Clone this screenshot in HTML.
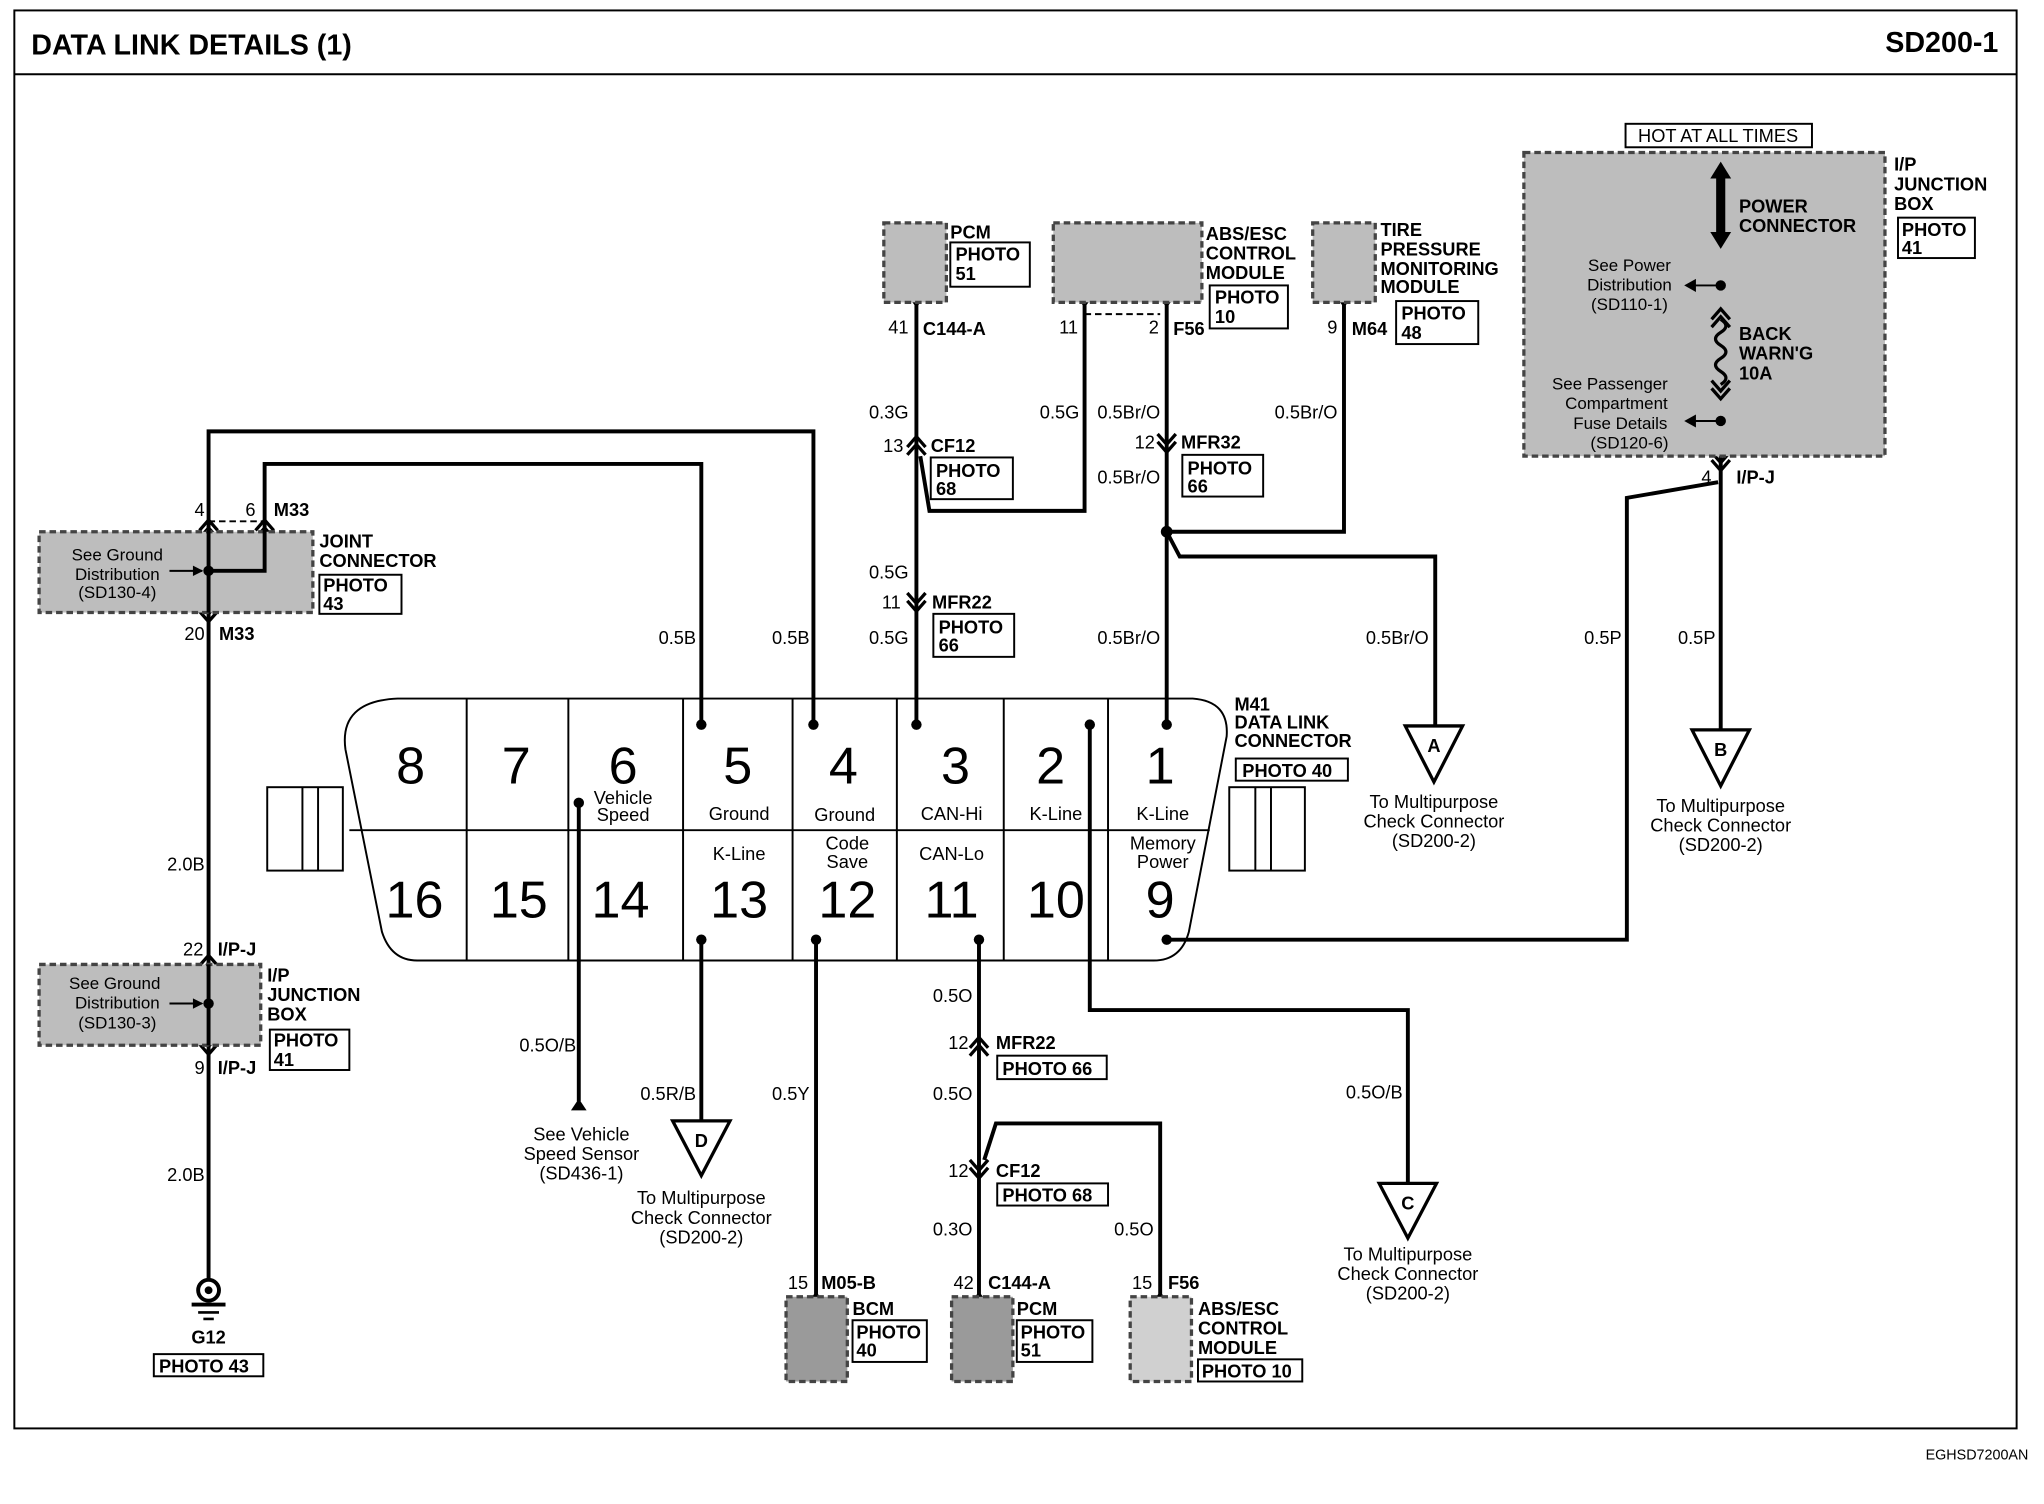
<!DOCTYPE html>
<html><head><meta charset="utf-8"><style>
html,body{margin:0;padding:0;background:#fff;}
svg{display:block;}
text{font-family:"Liberation Sans",Arial,sans-serif;fill:#000;}
.b{font-weight:bold;font-size:14px;}
.n{font-size:14px;}
.s{font-size:13px;}
.big{font-size:40px;}
.w{stroke:#000;stroke-width:3;fill:none;}
.t{stroke:#000;stroke-width:1.5;fill:none;}
.box{stroke:#000;stroke-width:1.5;fill:none;}
.mod{fill:#bdbdbd;stroke:#444;stroke-width:2.5;stroke-dasharray:5,3;}
.ch{stroke:#000;stroke-width:2.5;fill:none;}
</style></head><body>
<svg width="2044" height="1504" viewBox="0 0 1568 1154" preserveAspectRatio="none" xmlns="http://www.w3.org/2000/svg">
<defs>
<g id="up"><polyline class="ch" points="-7,7 0,-1 7,7"/><polyline class="ch" points="-7,13 0,5 7,13"/></g>
<g id="dn"><polyline class="ch" points="-7,-7 0,1 7,-7"/><polyline class="ch" points="-7,-13 0,-5 7,-13"/></g>
</defs>
<rect x="0" y="0" width="1568" height="1154" fill="#fff"/>
<rect x="11" y="8" width="1536" height="1088" fill="none" stroke="#000" stroke-width="1.5"/>
<line x1="11" y1="57" x2="1547" y2="57" stroke="#000" stroke-width="1.5"/>
<text x="24" y="42" font-size="22" font-weight="bold">DATA LINK DETAILS (1)</text>
<text x="1533" y="40" font-size="22" font-weight="bold" text-anchor="end">SD200-1</text>
<text x="1556" y="1120" font-size="11" text-anchor="end">EGHSD7200AN</text>

<!-- side tabs -->
<rect x="205" y="604" width="58" height="64" class="t"/><line x1="232" y1="604" x2="232" y2="668" class="t"/><line x1="244" y1="604" x2="244" y2="668" class="t"/>
<rect x="943" y="604" width="58" height="64" class="t"/><line x1="963" y1="604" x2="963" y2="668" class="t"/><line x1="975" y1="604" x2="975" y2="668" class="t"/>
<!-- DLC body -->
<path d="M305,536 L915,536 Q943,538 941,565 L912,715 Q906,737 885,737 L320,737 Q300,737 293,715 L265,575 Q260,538 305,536 Z" fill="#fff" stroke="#000" stroke-width="1.5"/>
<line x1="268" y1="637" x2="928" y2="637" class="t"/>
<g class="t"><line x1="358" y1="536" x2="358" y2="737"/><line x1="436" y1="536" x2="436" y2="737"/><line x1="524" y1="536" x2="524" y2="737"/><line x1="608" y1="536" x2="608" y2="737"/><line x1="688" y1="536" x2="688" y2="737"/><line x1="770" y1="536" x2="770" y2="737"/><line x1="850" y1="536" x2="850" y2="737"/></g>
<g class="big" text-anchor="middle">
<text x="315" y="601">8</text><text x="396" y="601">7</text><text x="478" y="601">6</text><text x="566" y="601">5</text><text x="647" y="601">4</text><text x="733" y="601">3</text><text x="806" y="601">2</text><text x="890" y="601">1</text>
<text x="318" y="704">16</text><text x="398" y="704">15</text><text x="476" y="704">14</text><text x="567" y="704">13</text><text x="650" y="704">12</text><text x="730" y="704">11</text><text x="810" y="704">10</text><text x="890" y="704">9</text>
</g>
<g class="n" text-anchor="middle">
<text x="478" y="617">Vehicle</text><text x="478" y="630">Speed</text>
<text x="567" y="629">Ground</text><text x="648" y="630">Ground</text><text x="730" y="629">CAN-Hi</text><text x="810" y="629">K-Line</text><text x="892" y="629">K-Line</text>
<text x="567" y="660">K-Line</text><text x="650" y="652">Code</text><text x="650" y="666">Save</text><text x="730" y="660">CAN-Lo</text><text x="892" y="652">Memory</text><text x="892" y="666">Power</text>
</g>
<g class="b"><text x="947" y="545">M41</text><text x="947" y="559">DATA LINK</text><text x="947" y="573">CONNECTOR</text><text x="953" y="596">PHOTO 40</text></g>
<rect x="948" y="582" width="86" height="17" class="box"/>

<!-- wires -->
<g class="w">
<polyline points="538,556 538,356 203,356 203,404"/>
<polyline points="624,556 624,331 160,331 160,404"/>
<line x1="703" y1="232" x2="703" y2="556"/>
<polyline points="706,350 713,392 832,392 832,232"/>
<line x1="895" y1="232" x2="895" y2="556"/>
<polyline points="895,408 905,427 1101,427 1101,557"/>
<polyline points="895,408 1031,408 1031,232"/>
<polyline points="836,556 836,775 1080,775 1080,908"/>
<polyline points="895,721 1248,721 1248,382 1318,370"/>
<line x1="1320" y1="350" x2="1320" y2="560"/>
<line x1="1320" y1="125" x2="1320" y2="350"/>
<line x1="444" y1="616" x2="444" y2="845"/>
<line x1="538" y1="721" x2="538" y2="860"/>
<line x1="626" y1="721" x2="626" y2="995"/>
<line x1="751" y1="721" x2="751" y2="995"/>
<polyline points="755,890 764,862 890,862 890,995"/>
<line x1="160" y1="404" x2="160" y2="982"/>
</g>
<line x1="832" y1="241" x2="890" y2="241" stroke="#000" stroke-width="1.5" stroke-dasharray="5,3"/>
<line x1="160" y1="400" x2="203" y2="400" stroke="#000" stroke-width="1.5" stroke-dasharray="5,3"/>
<!-- dots -->
<g fill="#000"><circle cx="538" cy="556" r="4"/><circle cx="624" cy="556" r="4"/><circle cx="703" cy="556" r="4"/><circle cx="836" cy="556" r="4"/><circle cx="895" cy="556" r="4"/><circle cx="444" cy="616" r="4"/><circle cx="538" cy="721" r="4"/><circle cx="626" cy="721" r="4"/><circle cx="751" cy="721" r="4"/><circle cx="895" cy="721" r="4"/><circle cx="895" cy="408" r="4.5"/>
<polygon points="438,852 450,852 444,843"/></g>

<!-- chevrons -->
<use href="#up" x="703" y="336"/><use href="#dn" x="703" y="468"/><use href="#dn" x="895" y="346"/>
<use href="#up" x="751" y="797"/><use href="#dn" x="751" y="903"/>
<use href="#up" x="160" y="400"/><use href="#up" x="203" y="400"/><use href="#dn" x="160" y="476"/>
<use href="#up" x="160" y="734"/><use href="#dn" x="160" y="808"/>
<use href="#dn" x="1320" y="360"/>
<g class="ch"><polyline points="697,226 703,234 709,226"/><polyline points="826,226 832,234 838,226"/><polyline points="889,226 895,234 901,226"/><polyline points="1025,226 1031,234 1037,226"/>
<polyline points="620,1001 626,993 632,1001"/><polyline points="745,1001 751,993 757,1001"/><polyline points="884,1001 890,993 896,1001"/></g>

<!-- modules top -->
<rect x="678" y="171" width="48" height="61" class="mod"/>
<rect x="808" y="171" width="114" height="61" class="mod"/>
<rect x="1007" y="171" width="48" height="61" class="mod"/>
<rect x="1169" y="117" width="277" height="233" class="mod"/>
<rect x="30" y="408" width="210" height="62" class="mod"/>
<rect x="30" y="740" width="170" height="62" class="mod"/>
<rect x="603" y="995" width="47" height="65" class="mod" fill="#999" style="fill:#9a9a9a"/>
<rect x="730" y="995" width="47" height="65" class="mod" style="fill:#9a9a9a"/>
<rect x="867" y="995" width="47" height="65" class="mod" style="fill:#d0d0d0"/>
<!-- redraw wires over modules -->
<g class="w"><line x1="160" y1="404" x2="160" y2="470"/><line x1="160" y1="740" x2="160" y2="802"/><polyline points="160,438 203,438 203,404"/></g>
<g fill="#000"><circle cx="160" cy="438" r="4"/><circle cx="160" cy="770" r="4"/></g>
<g class="t"><line x1="130" y1="438" x2="155" y2="438"/><line x1="130" y1="770" x2="155" y2="770"/></g>
<polygon points="156,438 148,434 148,442" fill="#000"/><polygon points="156,770 148,766 148,774" fill="#000"/>

<!-- right junction internals -->
<line x1="1320" y1="135" x2="1320" y2="180" stroke="#000" stroke-width="7"/>
<polygon points="1312,137 1320,124 1328,137" fill="#000"/><polygon points="1312,178 1320,191 1328,178" fill="#000"/>
<g fill="#000"><circle cx="1320" cy="219" r="4"/><circle cx="1320" cy="323" r="4"/></g>
<g class="t"><line x1="1300" y1="219" x2="1320" y2="219"/><line x1="1300" y1="323" x2="1320" y2="323"/></g>
<polygon points="1292,219 1301,214 1301,224" fill="#000"/><polygon points="1292,323 1301,318 1301,328" fill="#000"/>
<path d="M1320,245 q8,5 0,10 q-8,5 0,10 q8,5 0,10 q-8,5 0,10 q8,5 0,10" fill="#bdbdbd" stroke="#000" stroke-width="2.5"/>
<use href="#up" x="1320" y="238"/><use href="#dn" x="1320" y="305"/>
<g class="b"><text x="1334" y="163">POWER</text><text x="1334" y="178">CONNECTOR</text><text x="1334" y="261">BACK</text><text x="1334" y="276">WARN'G</text><text x="1334" y="291">10A</text></g>
<g class="s" text-anchor="middle"><text x="1250" y="208">See Power</text><text x="1250" y="223">Distribution</text><text x="1250" y="238">(SD110-1)</text>
<text x="1235" y="299">See Passenger</text><text x="1240" y="314">Compartment</text><text x="1243" y="329">Fuse Details</text><text x="1250" y="344">(SD120-6)</text>
<text x="90" y="430">See Ground</text><text x="90" y="445">Distribution</text><text x="90" y="459">(SD130-4)</text>
<text x="88" y="759">See Ground</text><text x="90" y="774">Distribution</text><text x="90" y="789">(SD130-3)</text></g>
<rect x="1247" y="95" width="143" height="18" class="box"/><text x="1318" y="109" class="n" text-anchor="middle">HOT AT ALL TIMES</text>
<g class="b"><text x="1453" y="131">I/P</text><text x="1453" y="146">JUNCTION</text><text x="1453" y="161">BOX</text><text x="1459" y="181">PHOTO</text><text x="1459" y="195">41</text></g>
<rect x="1456" y="167" width="59" height="31" class="box"/>

<!-- top module labels -->
<g class="b">
<text x="729" y="183">PCM</text><text x="733" y="200">PHOTO</text><text x="733" y="215">51</text>
<text x="925" y="184">ABS/ESC</text><text x="925" y="199">CONTROL</text><text x="925" y="214">MODULE</text><text x="932" y="233">PHOTO</text><text x="932" y="248">10</text>
<text x="1059" y="181">TIRE</text><text x="1059" y="196">PRESSURE</text><text x="1059" y="211">MONITORING</text><text x="1059" y="225">MODULE</text><text x="1075" y="245">PHOTO</text><text x="1075" y="260">48</text>
<text x="708" y="257">C144-A</text><text x="900" y="257">F56</text><text x="1037" y="257">M64</text>
<text x="714" y="347">CF12</text><text x="718" y="366">PHOTO</text><text x="718" y="380">68</text>
<text x="906" y="344">MFR32</text><text x="911" y="364">PHOTO</text><text x="911" y="378">66</text>
<text x="715" y="467">MFR22</text><text x="720" y="486">PHOTO</text><text x="720" y="500">66</text>
<text x="210" y="396">M33</text><text x="168" y="491">M33</text>
<text x="245" y="420">JOINT</text><text x="245" y="435">CONNECTOR</text><text x="248" y="454">PHOTO</text><text x="248" y="468">43</text>
<text x="167" y="733">I/P-J</text><text x="167" y="824">I/P-J</text>
<text x="205" y="753">I/P</text><text x="205" y="768">JUNCTION</text><text x="205" y="783">BOX</text><text x="210" y="803">PHOTO</text><text x="210" y="818">41</text>
<text x="1332" y="371">I/P-J</text>
<text x="160" y="1031" text-anchor="middle">G12</text><text x="122" y="1053">PHOTO 43</text>
<text x="764" y="805">MFR22</text><text x="769" y="825">PHOTO 66</text>
<text x="764" y="903">CF12</text><text x="769" y="922">PHOTO 68</text>
<text x="630" y="989">M05-B</text><text x="758" y="989">C144-A</text><text x="896" y="989">F56</text>
<text x="654" y="1009">BCM</text><text x="657" y="1027">PHOTO</text><text x="657" y="1041">40</text>
<text x="780" y="1009">PCM</text><text x="783" y="1027">PHOTO</text><text x="783" y="1041">51</text>
<text x="919" y="1009">ABS/ESC</text><text x="919" y="1024">CONTROL</text><text x="919" y="1039">MODULE</text><text x="922" y="1057">PHOTO 10</text>
</g>
<g class="box">
<rect x="729" y="186" width="61" height="34"/><rect x="928" y="219" width="60" height="33"/><rect x="1071" y="231" width="63" height="33"/>
<rect x="714" y="351" width="63" height="32"/><rect x="907" y="349" width="62" height="32"/><rect x="716" y="471" width="62" height="33"/>
<rect x="245" y="441" width="63" height="30"/><rect x="207" y="790" width="61" height="31"/><rect x="118" y="1039" width="84" height="17"/>
<rect x="765" y="810" width="84" height="18"/><rect x="765" y="908" width="85" height="17"/>
<rect x="654" y="1013" width="57" height="32"/><rect x="780" y="1013" width="58" height="32"/><rect x="919" y="1043" width="80" height="17"/>
</g>
<!-- wire labels -->
<g class="n" text-anchor="end">
<text x="697" y="256">41</text><text x="827" y="256">11</text><text x="889" y="256">2</text><text x="1026" y="256">9</text>
<text x="697" y="321">0.3G</text><text x="828" y="321">0.5G</text><text x="890" y="321">0.5Br/O</text><text x="1026" y="321">0.5Br/O</text>
<text x="693" y="347">13</text><text x="886" y="344">12</text><text x="890" y="371">0.5Br/O</text>
<text x="697" y="444">0.5G</text><text x="691" y="467">11</text><text x="697" y="494">0.5G</text><text x="890" y="494">0.5Br/O</text>
<text x="534" y="494">0.5B</text><text x="621" y="494">0.5B</text><text x="1096" y="494">0.5Br/O</text><text x="1244" y="494">0.5P</text><text x="1316" y="494">0.5P</text>
<text x="157" y="396">4</text><text x="196" y="396">6</text><text x="157" y="491">20</text><text x="157" y="668">2.0B</text><text x="156" y="733">22</text><text x="157" y="824">9</text><text x="157" y="906">2.0B</text>
<text x="1313" y="371">4</text>
<text x="746" y="769">0.5O</text><text x="743" y="805">12</text><text x="442" y="807">0.5O/B</text><text x="534" y="844">0.5R/B</text><text x="621" y="844">0.5Y</text><text x="746" y="844">0.5O</text><text x="1076" y="843">0.5O/B</text>
<text x="743" y="903">12</text><text x="746" y="948">0.3O</text><text x="885" y="948">0.5O</text>
<text x="620" y="989">15</text><text x="747" y="989">42</text><text x="884" y="989">15</text>
</g>
<!-- triangles -->
<g fill="#fff" stroke="#000" stroke-width="2.5">
<polygon points="1078,557 1122,557 1100,600"/><polygon points="1298,560 1342,560 1320,603"/>
<polygon points="516,860 560,860 538,902"/><polygon points="1058,908 1102,908 1080,950"/>
</g>
<g class="b" text-anchor="middle"><text x="1100" y="577">A</text><text x="1320" y="580">B</text><text x="538" y="880">D</text><text x="1080" y="928">C</text></g>
<g class="n" text-anchor="middle">
<text x="1100" y="620">To Multipurpose</text><text x="1100" y="635">Check Connector</text><text x="1100" y="650">(SD200-2)</text>
<text x="1320" y="623">To Multipurpose</text><text x="1320" y="638">Check Connector</text><text x="1320" y="653">(SD200-2)</text>
<text x="538" y="924">To Multipurpose</text><text x="538" y="939">Check Connector</text><text x="538" y="954">(SD200-2)</text>
<text x="1080" y="967">To Multipurpose</text><text x="1080" y="982">Check Connector</text><text x="1080" y="997">(SD200-2)</text>
<text x="446" y="875">See Vehicle</text><text x="446" y="890">Speed Sensor</text><text x="446" y="905">(SD436-1)</text>
</g>
<!-- ground symbol -->
<circle cx="160" cy="990" r="8" fill="none" stroke="#000" stroke-width="3"/>
<circle cx="160" cy="990" r="3" fill="#000"/>
<line x1="147" y1="1001" x2="173" y2="1001" stroke="#000" stroke-width="3"/>
<line x1="152" y1="1007" x2="168" y2="1007" stroke="#000" stroke-width="2"/>
<line x1="156" y1="1012" x2="164" y2="1012" stroke="#000" stroke-width="2"/>
</svg>
</body></html>
